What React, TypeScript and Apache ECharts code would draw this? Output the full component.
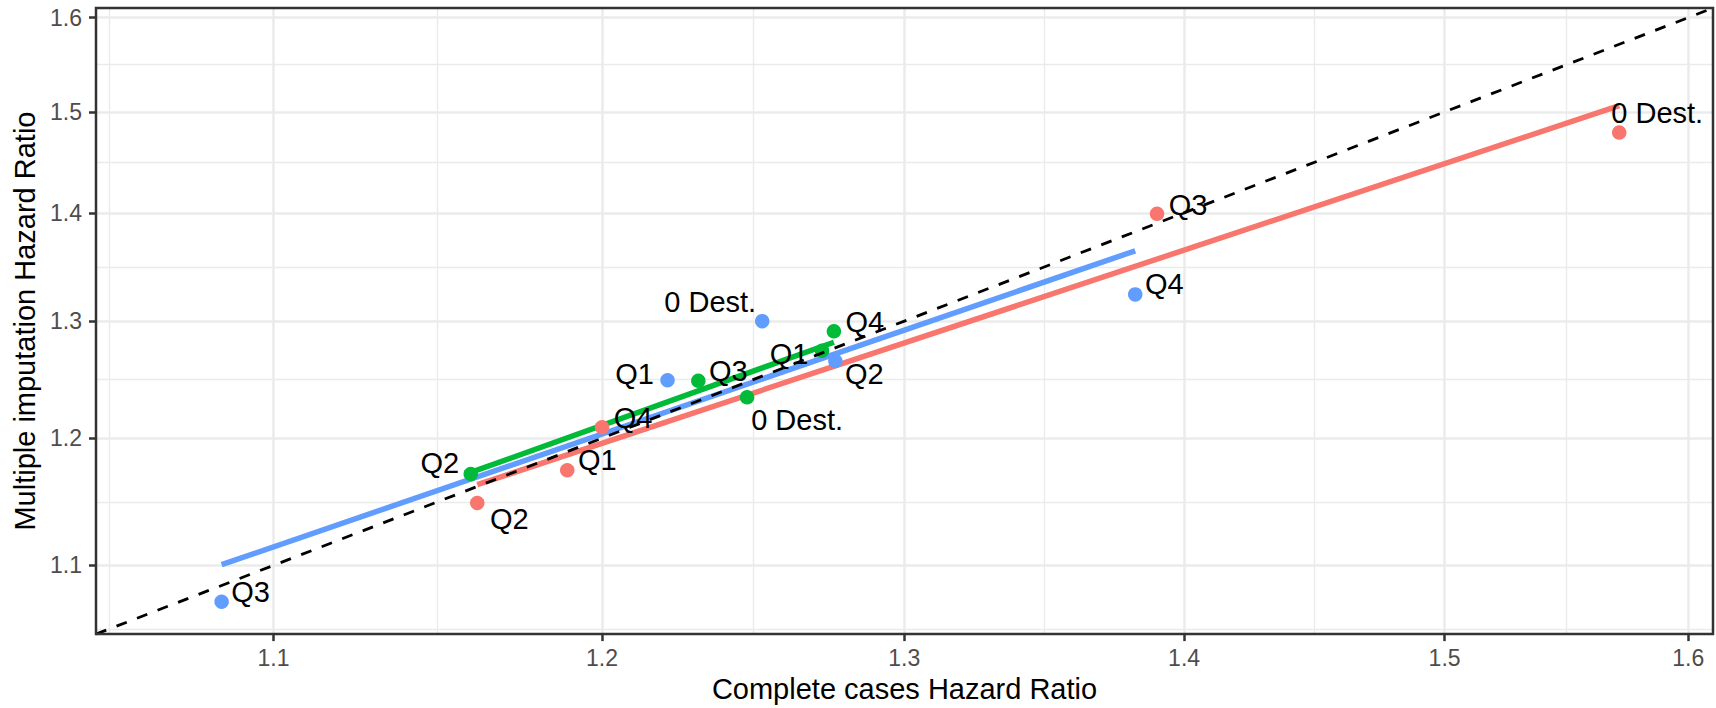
import React, { useEffect, useRef } from "react";
import * as echarts from "echarts";

// ---- data (hazard ratios) ----
const pointLabels = ["0 Dest.", "Q1", "Q2", "Q3", "Q4"];

const redCC = [1.571, 1.189, 1.161, 1.39, 1.2];
const redMI = [1.479, 1.174, 1.148, 1.399, 1.209];
const greenCC = [1.247, 1.272, 1.159, 1.231, 1.276];
const greenMI = [1.234, 1.274, 1.171, 1.248, 1.291];
const blueCC = [1.252, 1.221, 1.2765, 1.085, 1.382];
const blueMI = [1.3, 1.2485, 1.265, 1.073, 1.324];

// fitted lines (end points)
const redFitCC = [1.161, 1.571];
const redFitMI = [1.1624, 1.5064];
const greenFitCC = [1.159, 1.276];
const greenFitMI = [1.1722, 1.2814];
const blueFitCC = [1.085, 1.382];
const blueFitMI = [1.1005, 1.3641];

const tickValues = [1.1, 1.2, 1.3, 1.4, 1.5, 1.6];
const tickLabels = ["1.1", "1.2", "1.3", "1.4", "1.5", "1.6"];
const axisRange = [1.0495, 1.6105];

// ---- layout (label offsets in px relative to each point) ----
const redOffsets = [[38, -20], [30, -10], [32, 16], [31, -9], [31, -9]];
const greenOffsets = [[50, 23], [-33, 3], [-31, -11], [30, -10], [31, -9]];
const blueOffsets = [[-52, -19], [-33, -6], [29, 13], [29, -10], [29, -10]];

const FONT = "'Liberation Sans', Arial, Helvetica, sans-serif";
const ln = Math.log;

const lnTicks = tickValues.map(ln);
const lnMinor: number[] = [];
lnMinor.push(lnTicks[0] - (lnTicks[1] - lnTicks[0]) / 2);
for (let i = 0; i < lnTicks.length - 1; i++) lnMinor.push((lnTicks[i] + lnTicks[i + 1]) / 2);

const lnMin = ln(axisRange[0]);
const lnMax = ln(axisRange[1]);

function tickFormatter(v: number) {
  let best = 0;
  let d = Infinity;
  lnTicks.forEach((t, i) => {
    if (Math.abs(t - v) < d) {
      d = Math.abs(t - v);
      best = i;
    }
  });
  return tickLabels[best];
}

function makeAxes(isX: boolean, name: string) {
  const major: any = {
    type: "value",
    min: lnMin,
    max: lnMax,
    name,
    nameLocation: "middle",
    nameGap: isX ? 36 : 56,
    nameTextStyle: { fontSize: 29, color: "#000000", fontFamily: FONT },
    axisLine: { show: false },
    axisTick: {
      show: true,
      customValues: lnTicks,
      length: 7,
      lineStyle: { color: "#333333", width: 2.5 },
    },
    axisLabel: {
      customValues: lnTicks,
      formatter: tickFormatter,
      color: "#4D4D4D",
      fontSize: 23,
      fontFamily: FONT,
      margin: isX ? 12 : 14,
    },
    splitLine: { show: true, lineStyle: { color: "#EBEBEB", width: 2.5 } },
    z: 1,
  };
  const minor: any = {
    type: "value",
    min: lnMin,
    max: lnMax,
    position: isX ? "bottom" : "left",
    axisLine: { show: false },
    axisTick: { show: false, customValues: lnMinor },
    axisLabel: { show: false, customValues: lnMinor },
    splitLine: { show: true, lineStyle: { color: "#EBEBEB", width: 1.4 } },
    z: 0,
  };
  return [major, minor];
}

function groupSeries(cc: number[], mi: number[], offsets: number[][], fitCC: number[], fitMI: number[], color: string, name: string) {
  return [
    {
      type: "line",
      name: name + " fit",
      xAxisIndex: 0,
      yAxisIndex: 0,
      data: fitCC.map((x, i) => [ln(x), ln(fitMI[i])]),
      showSymbol: false,
      symbol: "none",
      lineStyle: { color, width: 5.5, cap: "butt" },
      z: 2,
      silent: true,
    },
    {
      type: "scatter",
      name,
      xAxisIndex: 0,
      yAxisIndex: 0,
      symbol: "circle",
      symbolSize: 14.5,
      itemStyle: { color, opacity: 1 },
      data: cc.map((x, i) => ({
        name: pointLabels[i],
        value: [ln(x), ln(mi[i])],
        label: { offset: offsets[i] },
      })),
      label: {
        show: true,
        position: "inside",
        formatter: (p: any) => p.name,
        color: "#000000",
        fontSize: 29,
        fontFamily: FONT,
      },
      z: 3,
    },
  ];
}

export default function App() {
  const ref = useRef<HTMLDivElement>(null);

  useEffect(() => {
    document.body.style.margin = "0";
    if (!ref.current) return;
    const chart = echarts.init(ref.current, undefined, { renderer: "svg" });
    const [x0, x1] = makeAxes(true, "Complete cases Hazard Ratio");
    const [y0, y1] = makeAxes(false, "Multiple imputation Hazard Ratio");
    const option: any = {
      animation: false,
      backgroundColor: "#FFFFFF",
      textStyle: { fontFamily: FONT },
      grid: {
        left: 96,
        top: 8,
        right: 3,
        bottom: 71.5,
        show: true,
        borderColor: "#333333",
        borderWidth: 2.5,
        backgroundColor: "transparent",
        z: 10,
      },
      xAxis: [x0, x1],
      yAxis: [y0, y1],
      series: [
        ...groupSeries(redCC, redMI, redOffsets, redFitCC, redFitMI, "#F8766D", "red"),
        ...groupSeries(greenCC, greenMI, greenOffsets, greenFitCC, greenFitMI, "#00BA38", "green"),
        ...groupSeries(blueCC, blueMI, blueOffsets, blueFitCC, blueFitMI, "#619CFF", "blue"),
        {
          type: "line",
          name: "identity",
          xAxisIndex: 0,
          yAxisIndex: 0,
          data: [
            [lnMin, lnMin],
            [lnMax, lnMax],
          ],
          showSymbol: false,
          symbol: "none",
          lineStyle: { color: "#000000", width: 2.8, type: [11, 11] },
          z: 5,
          silent: true,
        },
      ],
    };
    chart.setOption(option);
    return () => chart.dispose();
  }, []);

  return <div ref={ref} style={{ width: 1716, height: 708 }} />;
}
